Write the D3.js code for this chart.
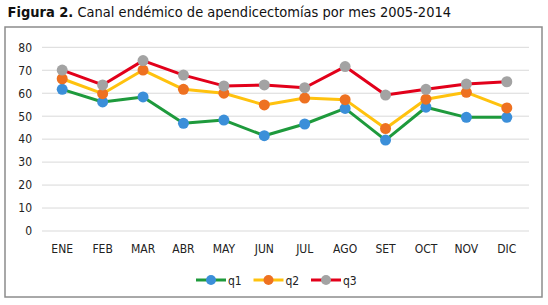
<!DOCTYPE html>
<html>
<head>
<meta charset="utf-8">
<script src="https://cdn.jsdelivr.net/npm/d3@7"></script>
<style>
  body { margin: 0; background: #fff; }
  svg text { font-family: "DejaVu Sans Condensed", "DejaVu Sans", sans-serif; }
</style>
</head>
<body>
<div id="chart"></div>
<script>
// Data
const months = ['ENE', 'FEB', 'MAR', 'ABR', 'MAY', 'JUN', 'JUL', 'AGO', 'SET', 'OCT', 'NOV', 'DIC'];
const q1 = [61.7, 56.2, 58.4, 46.9, 48.3, 41.5, 46.6, 53.4, 39.6, 53.9, 49.5, 49.5];
const q2 = [66.3, 59.8, 70.1, 61.7, 60.0, 54.9, 57.9, 57.2, 44.6, 57.4, 60.4, 53.6];
const q3 = [70.1, 63.6, 74.2, 67.9, 63.2, 63.6, 62.4, 71.6, 59.2, 61.7, 64.0, 65.0];
const yTicks = [0, 10, 20, 30, 40, 50, 60, 70, 80];

const series = [
  { name: 'q1', values: q1, line: '#1e9a3c', dot: '#3b8fd9' },
  { name: 'q2', values: q2, line: '#ffc20e', dot: '#ee7121' },
  { name: 'q3', values: q3, line: '#e2001a', dot: '#a3a3a3' },
];

const width = 548;
const height = 305;

const svg = d3.select('#chart')
  .append('svg')
  .attr('width', width)
  .attr('height', height);

// title
const title = svg.append('text')
  .attr('x', 7.5)
  .attr('y', 17)
  .style('font-size', '14.5px')
  .attr('fill', '#111');
title.append('tspan').style('font-weight', 'bold').text('Figura 2.');
title.append('tspan').text(' Canal endémico de apendicectomías por mes 2005-2014');

// frame
svg.append('rect')
  .attr('x', 5)
  .attr('y', 27)
  .attr('width', 537)
  .attr('height', 270)
  .attr('fill', '#fff')
  .attr('stroke', '#8c8c8c')
  .attr('stroke-width', 1.5);

const x = d3.scaleBand(months, [42, 527]);
const y = d3.scaleLinear([0, 80], [231, 47.3]);

// gridlines
svg.append('g')
  .selectAll('line')
  .data(yTicks)
  .join('line')
  .attr('x1', 42)
  .attr('x2', 529)
  .attr('y1', (d) => y(d))
  .attr('y2', (d) => y(d))
  .attr('stroke', '#d9d9d9')
  .attr('stroke-width', 1);

// y axis
const yAxis = d3.axisLeft(y).tickValues(yTicks).tickSize(0).tickPadding(0);
const gy = svg.append('g').attr('transform', 'translate(32,0)').call(yAxis);
gy.select('.domain').remove();
gy.selectAll('text').style('font-size', '12px').attr('fill', '#222').attr('font-family', null);

// x axis
const xAxis = d3.axisBottom(x).tickSize(0).tickPadding(0);
const gx = svg.append('g').attr('transform', 'translate(0,244)').call(xAxis);
gx.select('.domain').remove();
gx.selectAll('text').style('font-size', '12px').attr('fill', '#222').attr('font-family', null);

const line = d3.line()
  .x((d, i) => x(months[i]) + x.bandwidth() / 2)
  .y((d) => y(d));

// lines and dots
series.forEach((s) => {
  svg.append('path')
    .datum(s.values)
    .attr('d', line)
    .attr('fill', 'none')
    .attr('stroke', s.line)
    .attr('stroke-width', 3)
    .attr('stroke-linejoin', 'round');
});
series.forEach((s) => {
  svg.append('g')
    .selectAll('circle')
    .data(s.values)
    .join('circle')
    .attr('cx', (d, i) => x(months[i]) + x.bandwidth() / 2)
    .attr('cy', (d) => y(d))
    .attr('r', 5.5)
    .attr('fill', s.dot);
});

// legend
const legend = svg.append('g').attr('transform', 'translate(196,280)');
const item = legend.selectAll('g')
  .data(series)
  .join('g')
  .attr('transform', (d, i) => `translate(${i * 57.5},0)`);
item.append('line')
  .attr('x1', 0).attr('x2', 30)
  .attr('stroke', (d) => d.line)
  .attr('stroke-width', 3);
item.append('circle')
  .attr('cx', 15).attr('r', 5)
  .attr('fill', (d) => d.dot);
item.append('text')
  .attr('x', 32)
  .attr('y', 4.5)
  .style('font-size', '12px')
  .attr('fill', '#222')
  .text((d) => d.name);
</script>
</body>
</html>
